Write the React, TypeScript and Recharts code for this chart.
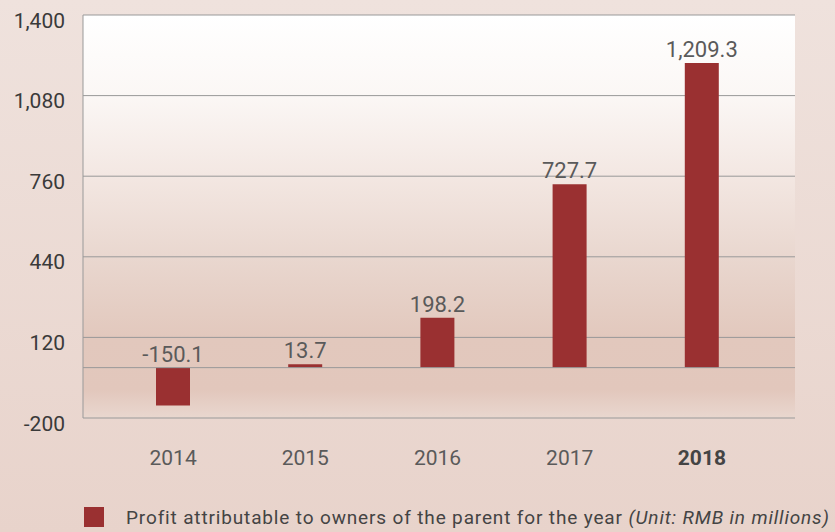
import React from 'react';
import { BarChart, Bar, XAxis, YAxis, CartesianGrid, Legend, LabelList, ReferenceLine } from 'recharts';

const years = ['2014', '2015', '2016', '2017', '2018'];
const profit = [-150.1, 13.7, 198.2, 727.7, 1209.3];
const yTicks = [-200, 120, 440, 760, 1080, 1400];
const seriesName = 'Profit attributable to owners of the parent for the year';
const unitNote = '(Unit: RMB in millions)';

const data = years.map((y, i) => ({ year: y, profit: profit[i] }));

const FONT = 'Roboto, "Liberation Sans", Arial, sans-serif';
const BAR = '#9a3031';

const fmt = (v: number) => v.toLocaleString('en-US', { minimumFractionDigits: 0, maximumFractionDigits: 1 });

const YTick = (props: any) => {
  const { x, y, payload } = props;
  return (
    <text x={x} y={y} dy={7} textAnchor="end" dominantBaseline="middle" fill="#3a3a3a" fontSize={21} fontFamily={FONT}>
      {fmt(payload.value)}
    </text>
  );
};

const XTick = (props: any) => {
  const { x, y, payload, index } = props;
  const last = index === years.length - 1;
  return (
    <text x={x} y={y} dominantBaseline="middle" textAnchor="middle" fill={last ? '#444' : '#5a5a5a'} fontWeight={last ? 700 : 400} fontSize={21} fontFamily={FONT}>
      {payload.value}
    </text>
  );
};

const ValueLabel = (props: any) => {
  const { x, y, width, height, value } = props;
  const top = Math.min(y, y + height);
  return (
    <text x={x + width / 2} y={top - 6} textAnchor="middle" fill="#5a5a5a" fontSize={22} fontFamily={FONT}>
      {Number(value).toLocaleString('en-US', { minimumFractionDigits: 1, maximumFractionDigits: 1 })}
    </text>
  );
};

const LegendContent = () => (
  <div style={{ display: 'flex', alignItems: 'center', fontFamily: FONT, fontSize: 19, letterSpacing: 0.85, color: '#444', height: 24, paddingLeft: 84, whiteSpace: 'nowrap', width: 835, boxSizing: 'border-box', overflow: 'visible' }}>
    <span style={{ display: 'inline-block', flexShrink: 0, width: 20, height: 20, background: BAR, marginRight: 22 }} />
    <span style={{ flexShrink: 0 }}>{seriesName} <i>{unitNote}</i></span>
  </div>
);

export default function App() {
  return (
    <div style={{ position: 'fixed', top: 0, left: 0, width: 835, height: 532, background: 'linear-gradient(#efe2dd, #e8d3cb)' }}>
      <BarChart width={835} height={532} data={data} margin={{ top: 15, right: 40, bottom: 3, left: 0 }}>
        <defs>
          <linearGradient id="plotBg" x1="0" y1="0" x2="0" y2="1">
            <stop offset="0" stopColor="#ffffff" />
            <stop offset="0.2" stopColor="#fbf7f5" />
            <stop offset="0.4" stopColor="#f3e7e2" />
            <stop offset="0.6" stopColor="#e9d7cf" />
            <stop offset="0.8" stopColor="#e2c8bd" />
            <stop offset="0.93" stopColor="#e2c7bc" />
            <stop offset="1" stopColor="#e9d7cf" />
          </linearGradient>
        </defs>
        <CartesianGrid vertical={false} stroke="#999" fill="url(#plotBg)" fillOpacity={1} />
        <XAxis
          dataKey="year"
          axisLine={false}
          tickLine={false}
          tick={<XTick />}
          tickMargin={35}
          height={87}
          padding={{ left: 24, right: 27 }}
          interval={0}
        />
        <YAxis
          domain={[-200, 1400]}
          ticks={yTicks}
          axisLine={{ stroke: '#999' }}
          tickLine={false}
          tick={<YTick />}
          tickMargin={12}
          width={83}
          interval={0}
        />
        <ReferenceLine y={0} stroke="#999" />
        <Legend verticalAlign="bottom" align="left" content={<LegendContent />} wrapperStyle={{ height: 24, left: 0, width: 835 }} />
        <Bar dataKey="profit" fill={BAR} barSize={34} isAnimationActive={false} name={seriesName}>
          <LabelList dataKey="profit" content={<ValueLabel />} />
        </Bar>
      </BarChart>
    </div>
  );
}
